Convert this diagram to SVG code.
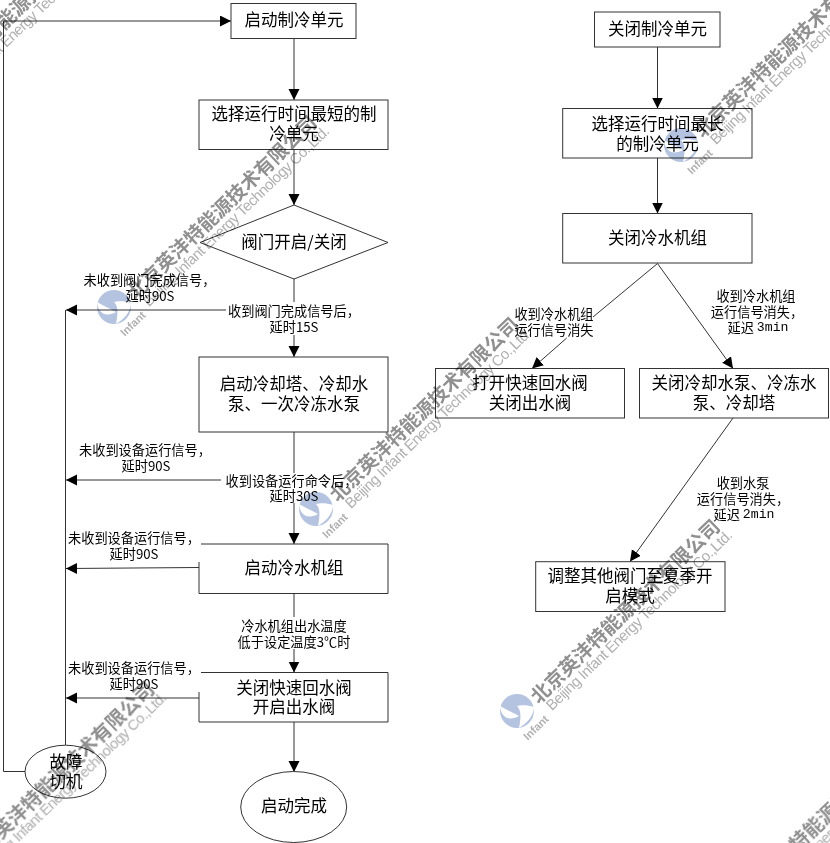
<svg xmlns="http://www.w3.org/2000/svg" width="830" height="843" viewBox="0 0 830 843">
<style>
.n{fill:#fff;stroke:#333;stroke-width:1}
.o{fill:none;stroke:#333;stroke-width:1}
.c{fill:none;stroke:#333;stroke-width:1}
.a{marker-end:url(#ah)}
text{font-family:"Noto Sans CJK SC","Liberation Sans",sans-serif;text-anchor:middle;dominant-baseline:central;fill:#000}
.t{font-size:16.5px}
.l{font-size:13.2px}
.m{font-family:"Liberation Mono",monospace}
.w1{font-size:19.5px;font-weight:700;fill:#909090;text-anchor:start}
.w2{font-family:"Liberation Sans",sans-serif;font-size:15px;fill:#b0b0b0;text-anchor:start}
.w3{font-family:"Liberation Sans",sans-serif;font-size:11px;font-weight:700;fill:#b0b0b0}
#watermarks{mix-blend-mode:multiply}
</style>
<defs>
<marker id="ah" markerUnits="userSpaceOnUse" markerWidth="12" markerHeight="12" refX="11" refY="5.5" orient="auto"><path d="M0,0L11,5.5L0,11Z" fill="#000"/></marker>
<g id="wm">
<circle r="17" fill="#b4c4e0"/>
<path d="M-17,-5C-12,-2 -5,1 2,5C-1,7 -6,8 -10,7C-14,5 -17,0 -17,-5Z" fill="#fff"/>
<path d="M17,-4C11,-6 4,-6 0,-5C3,-2 5,3 2,17C9,13 17,5 17,-4Z" fill="#fff"/>
<g transform="rotate(-44)">
<text class="w1" x="20" y="2" textLength="254">北京英沣特能源技术有限公司</text>
<text class="w2" x="25" y="19" textLength="252">Beijing Infant Energy Technology Co.,Ltd.</text>
<text class="w3" x="2" y="25">Infant</text>
</g>
</g>
</defs>
<g id="connectors">
<path class="c a" d="M294,38.500V100"/>
<path class="c a" d="M294,149.500V205"/>
<path class="c" d="M294,279V302"/>
<path class="c a" d="M294,335V357"/>
<path class="c a" d="M226,310H66"/>
<path class="c" d="M294,432V473"/>
<path class="c a" d="M294,503V544"/>
<path class="c a" d="M221,480H66"/>
<path class="c a" d="M199,567.500L66,568.500"/>
<path class="c" d="M294,593.500V617"/>
<path class="c a" d="M294,649V672.500"/>
<path class="c a" d="M199,698H66"/>
<path class="c a" d="M294,722V772"/>
<path class="c" d="M65.500,310V745"/>
<path class="c a" d="M25,771.500H3.500V21H231"/>
<path class="c a" d="M657.500,47V108.500"/>
<path class="c a" d="M657.500,158V213.500"/>
<path class="c" d="M657.500,263.500L593,317"/>
<path class="c a" d="M566.700,338L532,368.500"/>
<path class="c a" d="M657.500,263.500L733,368.500"/>
<path class="c a" d="M733,418L630,561.500"/>
</g>
<g id="n1"><rect class="n" x="231" y="3.500" width="125" height="35"/><text class="t" x="294" y="19">启动制冷单元</text></g>
<g id="n2"><rect class="n" x="199" y="100" width="189" height="49.500"/><text class="t" x="294" y="113">选择运行时间最短的制</text><text class="t" x="294" y="133">冷单元</text></g>
<g id="n3"><path class="n" d="M294,205L388,242.500L294,279L200,242.500Z"/><text class="t" x="294" y="241">阀门开启/关闭</text></g>
<g id="n4"><rect class="n" x="199" y="357" width="189" height="75"/><text class="t" x="294" y="383">启动冷却塔、冷却水</text><text class="t" x="294" y="403">泵、一次冷冻水泵</text></g>
<g id="n5"><path class="o" d="M201,544H388V593.500H199V562"/><text class="t" x="294" y="567">启动冷水机组</text></g>
<g id="n6"><path class="o" d="M201,672.500H388V722H199V692"/><text class="t" x="294" y="686.500">关闭快速回水阀</text><text class="t" x="294" y="706">开启出水阀</text></g>
<g id="n7"><ellipse class="n" cx="293.700" cy="807" rx="53" ry="35.500"/><text class="t" x="294" y="805">启动完成</text></g>
<g id="n8"><ellipse class="n" cx="65.500" cy="771.700" rx="40.500" ry="26.500"/><text class="t" x="66" y="761">故障</text><text class="t" x="66" y="781">切机</text></g>
<g id="n9"><rect class="n" x="594.500" y="12" width="125.500" height="35"/><text class="t" x="657.500" y="28">关闭制冷单元</text></g>
<g id="n10"><rect class="n" x="562.700" y="108.500" width="189.300" height="49.500"/><text class="t" x="657.500" y="123">选择运行时间最长</text><text class="t" x="657.500" y="143">的制冷单元</text></g>
<g id="n11"><rect class="n" x="562.700" y="213.500" width="189.300" height="49.500"/><text class="t" x="657.500" y="237">关闭冷水机组</text></g>
<g id="n12"><rect class="n" x="435.500" y="368.500" width="189" height="49.500"/><text class="t" x="530" y="382">打开快速回水阀</text><text class="t" x="530" y="402">关闭出水阀</text></g>
<g id="n13"><rect class="n" x="639.500" y="368.500" width="189" height="49.500"/><text class="t" x="734" y="382">关闭冷却水泵、冷冻水</text><text class="t" x="734" y="402">泵、冷却塔</text></g>
<g id="n14"><rect class="n" x="535.700" y="561.700" width="189.300" height="49.800"/><text class="t" x="630" y="575">调整其他阀门至夏季开</text><text class="t" x="630" y="595">启模式</text></g>
<g id="labels">
<text class="l" x="149.500" y="279">未收到阀门完成信号，</text><text class="l" x="150" y="295">延时90S</text>
<text class="l" x="294" y="310">收到阀门完成信号后，</text><text class="l" x="294" y="326">延时15S</text>
<text class="l" x="145" y="449">未收到设备运行信号，</text><text class="l" x="146" y="465">延时90S</text>
<text class="l" x="291.500" y="480">收到设备运行命令后，</text><text class="l" x="294" y="495">延时30S</text>
<text class="l" x="134" y="537">未收到设备运行信号，</text><text class="l" x="134" y="553">延时90S</text>
<text class="l" x="294" y="625">冷水机组出水温度</text><text class="l" x="294" y="641">低于设定温度3℃时</text>
<text class="l" x="134" y="667">未收到设备运行信号，</text><text class="l" x="134" y="683">延时90S</text>
<text class="l" x="554" y="313">收到冷水机组</text><text class="l" x="554" y="329">运行信号消失</text>
<text class="l" x="756" y="295">收到冷水机组</text><text class="l" x="757" y="311">运行信号消失，</text><text class="l" x="758" y="327">延迟 <tspan class="m">3min</tspan></text>
<text class="l" x="743" y="482">收到水泵</text><text class="l" x="743" y="498">运行信号消失，</text><text class="l" x="744" y="514">延迟 <tspan class="m">2min</tspan></text>
</g>
<g id="watermarks">
<use href="#wm" x="-88" y="105"/>
<use href="#wm" x="114" y="307"/>
<use href="#wm" x="316" y="509"/>
<use href="#wm" x="517" y="711"/>
<use href="#wm" x="719" y="913"/>
<use href="#wm" x="681" y="145"/>
<use href="#wm" x="-49" y="873"/>
</g>
</svg>
